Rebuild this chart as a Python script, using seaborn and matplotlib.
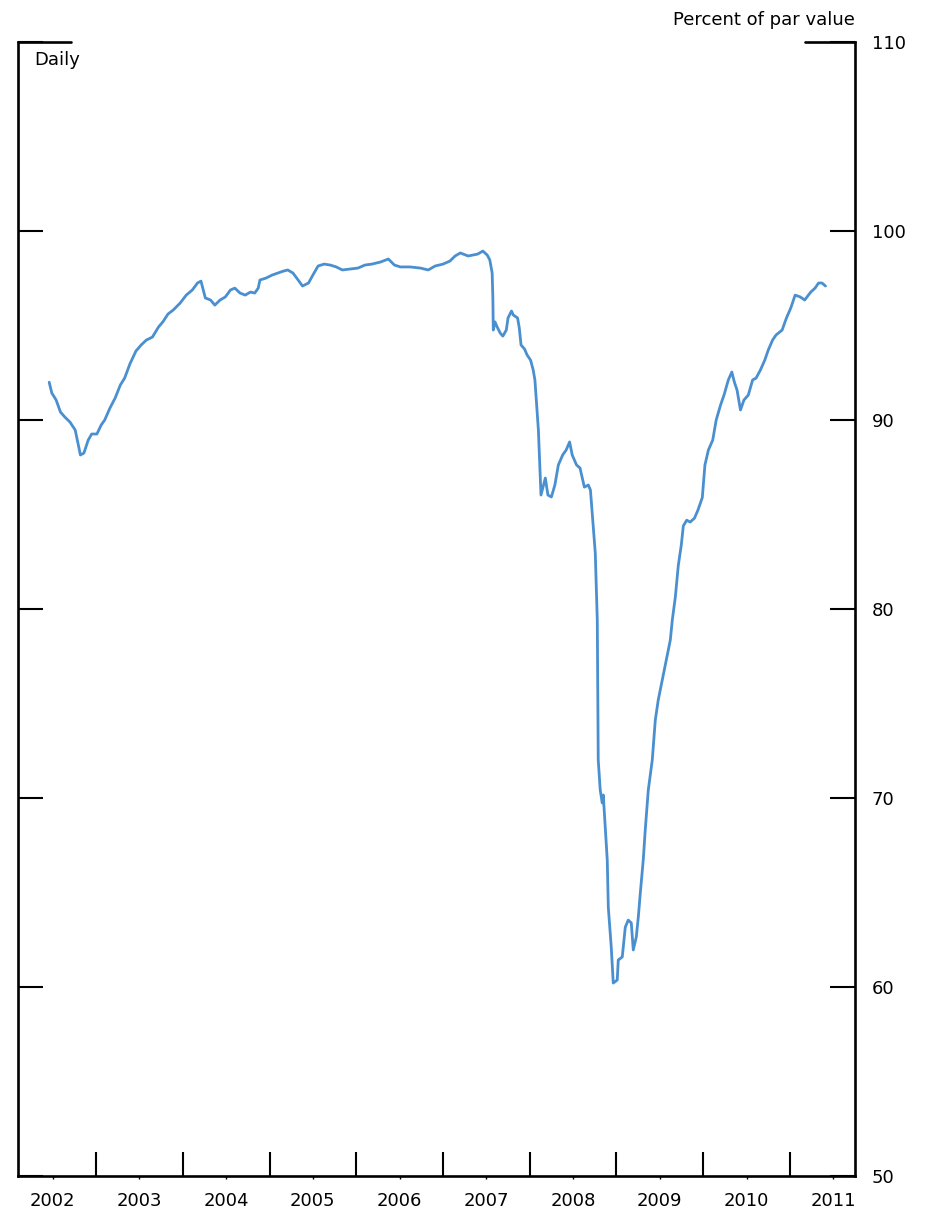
import numpy as np
import pandas as pd
import matplotlib
matplotlib.use("Agg")
import matplotlib.pyplot as plt
import seaborn as sns
from matplotlib.ticker import FixedLocator, NullFormatter, FixedFormatter

# ---- data (decimal year, percent of par value) ----
years = [
    2002.46, 2002.49, 2002.54, 2002.59, 2002.64, 2002.70, 2002.76, 2002.82, 2002.86, 2002.91,
    2002.95, 2003.01, 2003.06, 2003.10, 2003.16, 2003.22, 2003.28, 2003.33, 2003.39, 2003.46,
    2003.52, 2003.58, 2003.65, 2003.72, 2003.77, 2003.83, 2003.89, 2003.97, 2004.04, 2004.11,
    2004.17, 2004.21, 2004.26, 2004.32, 2004.37, 2004.43, 2004.49, 2004.55, 2004.60, 2004.66,
    2004.72, 2004.78, 2004.83, 2004.87, 2004.89, 2004.96, 2005.03, 2005.10, 2005.16, 2005.21,
    2005.27, 2005.33, 2005.38, 2005.45, 2005.50, 2005.56, 2005.63, 2005.70, 2005.77, 2005.84,
    2005.93, 2006.02, 2006.10, 2006.18, 2006.28, 2006.37, 2006.44, 2006.51, 2006.62, 2006.74,
    2006.83, 2006.91, 2007.00, 2007.08, 2007.14, 2007.20, 2007.29, 2007.40, 2007.46, 2007.51,
    2007.54, 2007.567, 2007.575, 2007.58, 2007.60, 2007.625, 2007.66, 2007.69, 2007.73, 2007.75,
    2007.79, 2007.81, 2007.86, 2007.88, 2007.90, 2007.94, 2007.97, 2008.01, 2008.04, 2008.06,
    2008.10, 2008.13, 2008.18, 2008.21, 2008.25, 2008.29, 2008.33, 2008.38, 2008.42, 2008.46,
    2008.49, 2008.54, 2008.58, 2008.63, 2008.675, 2008.70, 2008.73, 2008.756, 2008.779, 2008.79,
    2008.813, 2008.836, 2008.848, 2008.871, 2008.894, 2008.906, 2008.94, 2008.963, 2009.009, 2009.021,
    2009.067, 2009.102, 2009.136, 2009.171, 2009.194, 2009.229, 2009.252, 2009.275, 2009.309, 2009.332,
    2009.367, 2009.413, 2009.448, 2009.482, 2009.528, 2009.575, 2009.621, 2009.644, 2009.679, 2009.713,
    2009.748, 2009.771, 2009.81, 2009.85, 2009.90, 2009.94, 2009.99, 2010.02, 2010.06, 2010.11,
    2010.15, 2010.20, 2010.24, 2010.29, 2010.33, 2010.36, 2010.39, 2010.43, 2010.47, 2010.52,
    2010.57, 2010.61, 2010.66, 2010.71, 2010.75, 2010.80, 2010.84, 2010.91, 2010.96, 2011.01,
    2011.06, 2011.12, 2011.17, 2011.24, 2011.29, 2011.33, 2011.37, 2011.41,
]
price = [
    92.00, 91.43, 91.06, 90.42, 90.16, 89.89, 89.47, 88.15, 88.25, 88.94,
    89.26, 89.26, 89.74, 90.00, 90.63, 91.16, 91.85, 92.22, 92.96, 93.65,
    93.97, 94.23, 94.39, 94.92, 95.19, 95.61, 95.82, 96.19, 96.61, 96.88,
    97.25, 97.35, 96.46, 96.35, 96.08, 96.35, 96.51, 96.88, 96.98, 96.72,
    96.61, 96.77, 96.72, 96.98, 97.41, 97.51, 97.67, 97.78, 97.88, 97.94,
    97.78, 97.41, 97.09, 97.25, 97.67, 98.15, 98.25, 98.20, 98.10, 97.94,
    97.99, 98.04, 98.20, 98.25, 98.36, 98.52, 98.20, 98.10, 98.10, 98.04,
    97.94, 98.15, 98.25, 98.41, 98.68, 98.84, 98.68, 98.78, 98.94, 98.73,
    98.47, 97.78, 96.51, 94.76, 95.19, 94.92, 94.60, 94.44, 94.76, 95.40,
    95.77, 95.56, 95.40, 94.87, 93.97, 93.76, 93.44, 93.17, 92.65, 92.12,
    89.47, 86.03, 86.93, 86.03, 85.93, 86.56, 87.62, 88.15, 88.41, 88.84,
    88.15, 87.62, 87.46, 86.45, 86.56, 86.30, 84.55, 82.96, 79.42, 72.01,
    70.42, 69.74, 70.16, 68.47, 66.72, 64.23, 62.12, 60.21, 60.37, 61.43,
    61.59, 63.17, 63.54, 63.39, 61.96, 62.65, 63.70, 64.97, 66.72, 68.31,
    70.42, 72.01, 74.13, 75.19, 76.24, 77.30, 78.36, 79.42, 80.64, 82.30,
    83.40, 84.40, 84.70, 84.60, 84.81, 85.24, 85.90, 87.62, 88.41, 88.94,
    90.00, 90.79, 91.32, 92.12, 92.54, 92.00, 91.59, 90.53, 91.06, 91.32,
    92.12, 92.22, 92.65, 93.17, 93.70, 94.23, 94.50, 94.76, 95.40, 95.93,
    96.61, 96.51, 96.35, 96.77, 96.98, 97.25, 97.25, 97.09,
]
year_labels = ["2002", "2003", "2004", "2005", "2006", "2007", "2008", "2009", "2010", "2011"]
y_ticks = [50, 60, 70, 80, 90, 100, 110]

df = pd.DataFrame({"year": years, "price": price})

sns.set_theme(style="white")
plt.rcParams["font.family"] = ["DejaVu Sans"]

fig = plt.figure(figsize=(9.26, 12.15), dpi=100)
ax = fig.add_axes([0.0194, 0.0321, 0.9039, 0.9333])

sns.lineplot(data=df, x="year", y="price", ax=ax, color="#4a8fd0",
             linewidth=2.0, sort=False, estimator=None)

ax.set_xlim(2002.1, 2011.75)
ax.set_ylim(50, 110)
ax.set_xlabel("")
ax.set_ylabel("")

for side in ["left", "right", "bottom"]:
    ax.spines[side].set_visible(True)
    ax.spines[side].set_color("black")
    ax.spines[side].set_linewidth(1.9)
ax.spines["top"].set_visible(False)

# x axis: year boundaries as long inward ticks, labels at mid-year
starts = [int(l) for l in year_labels]
ax.xaxis.set_major_locator(FixedLocator([s for s in starts[1:]]))
ax.xaxis.set_major_formatter(NullFormatter())
ax.xaxis.set_minor_locator(FixedLocator([s + 0.5 for s in starts]))
ax.xaxis.set_minor_formatter(FixedFormatter(year_labels))
ax.tick_params(axis="x", which="major", direction="in", length=17.5, width=1.5,
               color="black", bottom=True, top=False)
ax.tick_params(axis="x", which="minor", direction="out", length=2.5, width=1.0,
               color="black", bottom=True, labelsize=13, pad=9, labelcolor="black")

# y axis: ticks on both sides, labels on right
ax.set_yticks(y_ticks)
ax.set_yticklabels([str(v) for v in y_ticks])
ax.tick_params(axis="y", which="major", direction="in", length=18, width=1.5,
               color="black", left=True, right=True, labelleft=False,
               labelright=True, labelsize=13, pad=12, labelcolor="black")

# longer marks at the top value
ax.axhline(110, xmin=0, xmax=0.063, color="black", linewidth=1.9, clip_on=False)
ax.axhline(110, xmin=0.940, xmax=1.0, color="black", linewidth=1.9, clip_on=False)

ax.grid(False)
ax.text(0.020, 0.984, "Daily", transform=ax.transAxes, ha="left", va="center",
        fontsize=13, color="black")
fig.text(0.9233, 0.9835, "Percent of par value", ha="right", va="center",
         fontsize=13, color="black")

fig.savefig("out.png", dpi=100)
